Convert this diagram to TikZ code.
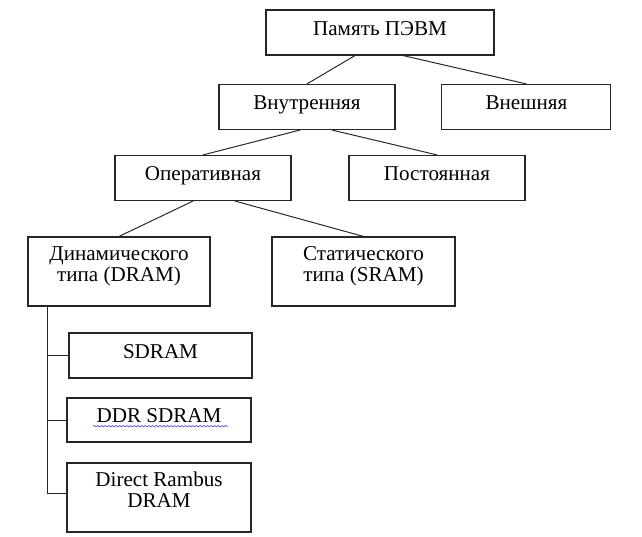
\documentclass[tikz,border=0pt]{standalone}
\usepackage{fontspec}
\setmainfont{Liberation Serif}
\usepackage{xcolor}
\usepackage{tikz}
\usetikzlibrary{decorations.pathmorphing}
\definecolor{boxLine}{HTML}{262626}
\definecolor{spellBlue}{HTML}{5555CC}
\tikzset{
  membox/.style={rectangle, draw=boxLine, fill=white, line width=0.8pt, font=\fontsize{15}{14.5}\selectfont, minimum width=4.4cm, minimum height=1.125cm, inner sep=2pt, text height=0.3cm, text depth=0.15cm},
  % --- two-line boxes ---
  membigbox/.style={membox, align=center, minimum height=1.725cm, text height=0.8cm, text depth=0.32cm},
  treeline/.style={line width=0.7pt, draw=boxLine},
  spellwave/.style={draw=spellBlue, line width=0.5pt, decorate, decoration={snake, amplitude=0.5pt, segment length=2.6pt}},
}

\begin{document}
\begin{tikzpicture}[x=1cm,y=1cm]
      \useasboundingbox (0,0) rectangle (16.05,13.425);

      \node[membox, minimum width=5.7cm] (memory) at (9.5,12.6125) {Память ПЭВМ};

      \node[membox] (internal) at (7.675,10.75) {Внутренняя};
      \node[membox, minimum width=4.225cm] (external) at (13.16,10.75) {Внешняя};

      \node[membox] (ram) at (5.075,8.975) {Оперативная};
      \node[membox] (rom) at (10.925,8.975) {Постоянная};

      \node[membigbox, minimum width=4.55cm] (dram) at (2.975,6.6375) {Динамического \\ типа (DRAM)};
      \node[membigbox, minimum width=4.575cm] (sram) at (9.0875,6.6375) {Статического \\ типа (SRAM)};

      \node[membox, minimum width=4.575cm] (sdram) at (4.0125,4.5375) {SDRAM};
      \node[membox, minimum width=4.6cm, minimum height=1.1cm] (ddr) at (3.975,2.925) {DDR SDRAM};
      \node[membigbox, minimum width=4.6cm] (rambus) at (3.975,0.9875) {Direct Rambus \\ DRAM};

      \draw[treeline] ([xshift=-0.625cm]memory.south) -- (internal.north);
      \draw[treeline] ([xshift=0.575cm]memory.south) -- (external.north);
      \draw[treeline] ([xshift=-0.175cm]internal.south) -- (ram.north);
      \draw[treeline] ([xshift=0.625cm]internal.south) -- (rom.north);
      \draw[treeline] ([xshift=-0.25cm]ram.south) -- (dram.north);
      \draw[treeline] ([xshift=0.8cm]ram.south) -- (sram.north);

      \coordinate (trunk) at (1.175,0);
      \draw[treeline] (trunk |- dram.south) |- ([yshift=0.1cm]rambus.west);
      \draw[treeline] (trunk |- sdram.west) -- (sdram.west);
      \draw[treeline] (trunk |- ddr.west) -- (ddr.west);

      \draw[spellwave] ([xshift=-1.65cm,yshift=-0.08cm]ddr.base) -- ([xshift=1.72cm,yshift=-0.08cm]ddr.base);
    \end{tikzpicture}
\end{document}
